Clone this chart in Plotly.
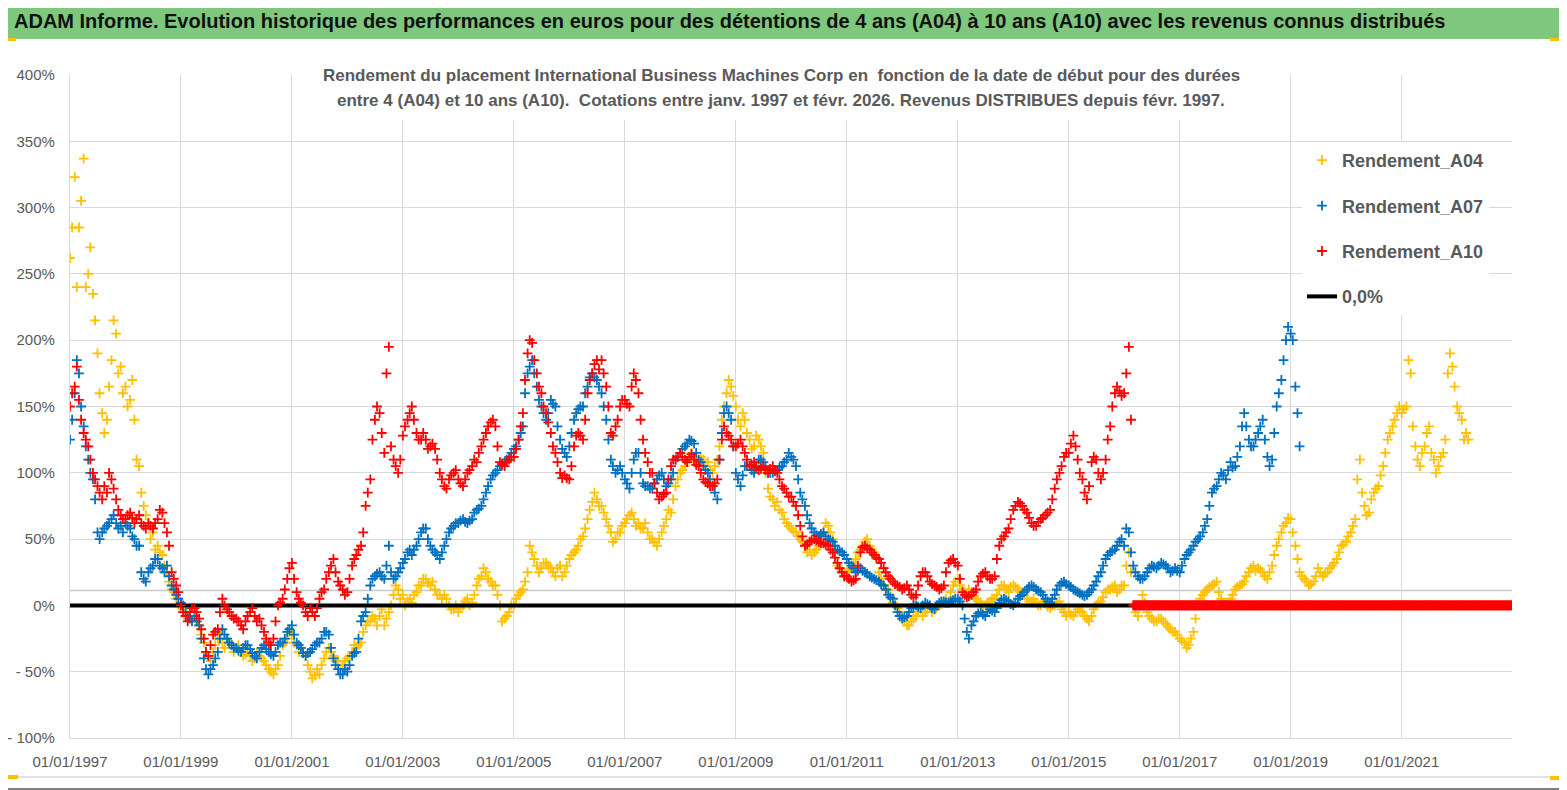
import pandas as pd
import plotly.graph_objects as go

## valeurs (rendement en %)
## deux lectures par mois : le 1er (a..) et le 15 (m..) pour rendre l'epaisseur des nuages
debut = '1997-01-01'

a04 = [
    262, 323, 285, 337, 250, 235, 190, 145, 140, 185, 205, 180,   # 1997
    165, 155, 140, 105, 75, 62, 55, 45, 38, 25, 12, 5,             # 1998
    0, -5, -8, -5, -15, -28, -38, -35, -25, -28, -25, -30,         # 1999
    -33, -35, -37, -38, -40, -38, -42, -48, -52, -45, -30, -25,    # 2000
    -22, -30, -32, -38, -50, -53, -52, -40, -32, -38, -42, -45,    # 2001
    -40, -35, -32, -28, -15, -12, -10, -8, -15, -5, 8, 12,         # 2002
    8, 3, 2, 10, 15, 20, 15, 12, 8, 8, 0, -3,                      # 2003
    -5, 0, 5, 2, 15, 22, 25, 18, 15, 0, -10, -5,                   # 2004
    0, 8, 12, 25, 40, 30, 28, 32, 28, 22, 30, 25,                  # 2005
    35, 40, 45, 52, 65, 78, 80, 75, 65, 55, 50, 55,                # 2006
    62, 68, 65, 62, 58, 55, 50, 45, 55, 65, 70, 90,                # 2007
    100, 105, 110, 112, 105, 110, 108, 100, 110, 140, 160, 165,    # 2008
    150, 135, 140, 125, 120, 125, 115, 88, 80, 78, 70, 62,         # 2009
    58, 55, 50, 45, 42, 40, 45, 55, 60, 50, 30, 25,                # 2010
    25, 28, 35, 42, 48, 45, 40, 25, 15, 12, 2, -2,                 # 2011
    -8, -15, -12, -8, -3, -5, -2, -3, 0, 2, 3, 15,                 # 2012
    20, 12, 8, 10, 5, 2, 0, 3, 5, 12, 15, 10,                      # 2013
    15, 12, 10, 5, 3, 2, 0, 2, -2, 0, 3, -5,                       # 2014
    -5, -8, -3, -5, -10, -8, 0, 3, 10, 12, 15, 12,                 # 2015
    15, 40, 0, -8, 8, -5, -10, -12, -10, -14, -18, -20,            # 2016
    -25, -28, -30, -20, 0, 8, 12, 15, 18, 5, 0, 5,                 # 2017
    12, 15, 18, 25, 30, 28, 25, 20, 30, 45, 55, 62,                # 2018
    65, 45, 25, 20, 15, 18, 28, 22, 25, 30, 35, 45,                # 2019
    48, 55, 65, 110, 75, 70, 85, 90, 105, 125, 135, 145,           # 2020
    145, 150, 175, 120, 105, 120, 135, 110, 105, 115, 175, 180,    # 2021
    150, 140, 130,                                                 # 2022
]
m04 = [
    285, 240, 305, 240, 270, 215, 160, 130, 165, 215, 175, 160,    # 1997
    150, 170, 110, 85, 68, 50, 42, 40, 30, 18, 10, 0,              # 1998
    -3, -10, -2, -12, -22, -35, -42, -30, -22, -32, -28, -35,      # 1999
    -30, -38, -35, -42, -36, -40, -45, -50, -48, -38, -28, -20,    # 2000
    -28, -35, -35, -45, -55, -48, -45, -35, -35, -42, -48, -42,    # 2001
    -38, -30, -30, -20, -12, -8, -15, -3, -10, 0, 15, 5,           # 2002
    0, 5, 8, 15, 20, 17, 18, 8, 5, 5, -3, 0,                       # 2003
    -2, 3, 0, 8, 20, 28, 20, 15, 8, -12, -8, 0,                    # 2004
    5, 10, 18, 45, 35, 25, 32, 30, 25, 28, 22, 30,                 # 2005
    38, 42, 50, 58, 72, 85, 75, 70, 60, 48, 55, 60,                # 2006
    65, 70, 60, 58, 62, 50, 48, 50, 60, 72, 80, 95,                # 2007
    102, 108, 115, 108, 112, 105, 102, 105, 120, 150, 170, 158,    # 2008
    140, 145, 130, 118, 128, 120, 100, 82, 75, 72, 65, 60,         # 2009
    56, 52, 48, 40, 38, 42, 50, 62, 55, 40, 28, 22,                # 2010
    26, 32, 40, 45, 50, 42, 35, 20, 12, 8, 0, -5,                  # 2011
    -12, -15, -10, -5, -8, -3, -5, -1, 1, 5, 10, 18,               # 2012
    15, 10, 12, 7, 3, 0, 2, 5, 8, 15, 12, 14,                      # 2013
    14, 10, 8, 3, 5, 0, 3, -1, 0, 2, -3, -8,                       # 2014
    -7, -5, -4, -8, -12, -3, 2, 6, 12, 14, 10, 15,                 # 2015
    30, 25, -5, 0, 2, -8, -12, -10, -12, -16, -20, -22,            # 2016
    -27, -32, -25, -10, 5, 10, 14, 16, 10, 2, 2, 8,                # 2017
    14, 16, 22, 28, 26, 27, 22, 25, 38, 50, 60, 66,                # 2018
    55, 35, 22, 18, 16, 22, 25, 24, 28, 32, 40, 46,                # 2019
    52, 60, 95, 85, 68, 80, 88, 98, 115, 130, 140, 150,            # 2020
    148, 185, 135, 110, 115, 130, 115, 100, 112, 125, 190, 165,    # 2021
    145, 125, 125,                                                 # 2022
]

a07 = [
    125, 160, 175, 135, 110, 95, 55, 55, 60, 65, 62, 60,           # 1997
    62, 58, 50, 45, 20, 25, 30, 35, 28, 30, 15, 8,                 # 1998
    2, -5, -10, -8, -15, -40, -52, -45, -35, -18, -25, -30,        # 1999
    -32, -35, -30, -33, -38, -35, -30, -35, -38, -30, -28, -20,    # 2000
    -15, -28, -32, -38, -35, -30, -28, -20, -22, -40, -48, -52,    # 2001
    -50, -38, -35, -12, -5, 15, 22, 25, 20, 45, 20, 25,            # 2002
    32, 40, 38, 45, 55, 58, 45, 40, 35, 45, 55, 60,                # 2003
    62, 65, 62, 65, 72, 75, 85, 95, 100, 105, 108, 112,            # 2004
    118, 125, 135, 175, 185, 165, 150, 140, 155, 150, 125, 115,    # 2005
    120, 140, 148, 150, 165, 175, 170, 160, 140, 110, 100, 105,    # 2006
    95, 88, 110, 115, 92, 90, 88, 95, 100, 90, 95, 110,            # 2007
    115, 120, 125, 122, 110, 105, 100, 90, 80, 130, 150, 140,      # 2008
    100, 90, 105, 105, 100, 110, 108, 100, 100, 102, 105, 110,     # 2009
    112, 105, 85, 75, 62, 55, 52, 55, 50, 48, 42, 40,              # 2010
    35, 30, 25, 28, 25, 22, 20, 18, 15, 8, 5, -5,                  # 2011
    -10, -8, -2, 0, -2, 2, 0, -3, 2, 3, 2, 4,                      # 2012
    5, 0, -20, -15, -8, -5, -8, -3, -5, 2, 5, 3,                   # 2013
    0, 5, 8, 12, 15, 12, 10, 5, 2, 8, 15, 18,                      # 2014
    15, 12, 10, 8, 8, 12, 18, 25, 35, 40, 42, 48,                  # 2015
    45, 55, 30, 22, 20, 25, 30, 28, 32, 30, 25, 28,                # 2016
    25, 35, 40, 45, 50, 55, 65, 85, 90, 100, 95, 108,              # 2017
    105, 120, 145, 125, 120, 130, 140, 112, 110, 150, 170, 200,    # 2018
    205, 165, 120,                                                 # 2019
]
m07 = [
    140, 185, 150, 120, 100, 80, 50, 58, 62, 68, 58, 55,           # 1997
    60, 52, 45, 25, 18, 28, 35, 30, 25, 22, 12, 5,                 # 1998
    0, -8, -12, -12, -25, -48, -48, -40, -25, -22, -28, -32,       # 1999
    -34, -32, -30, -36, -40, -32, -33, -37, -35, -28, -25, -18,    # 2000
    -22, -30, -36, -36, -33, -28, -25, -20, -32, -45, -52, -48,    # 2001
    -45, -36, -25, -8, 5, 20, 24, 22, 30, 25, 22, 28,              # 2002
    35, 42, 42, 50, 58, 50, 42, 38, 40, 50, 58, 62,                # 2003
    64, 63, 64, 70, 73, 80, 90, 98, 102, 107, 110, 115,            # 2004
    120, 130, 160, 180, 175, 155, 145, 145, 152, 135, 118, 112,    # 2005
    130, 145, 150, 160, 172, 172, 165, 150, 125, 105, 102, 100,    # 2006
    92, 100, 115, 100, 90, 88, 92, 98, 95, 92, 100, 112,           # 2007
    118, 122, 124, 115, 108, 102, 95, 85, 110, 145, 145, 120,      # 2008
    95, 98, 105, 102, 105, 110, 104, 100, 101, 104, 108, 115,      # 2009
    110, 95, 80, 68, 58, 53, 54, 52, 49, 45, 41, 38,               # 2010
    32, 28, 26, 26, 24, 21, 19, 16, 12, 6, 0, -8,                  # 2011
    -9, -5, -1, -1, 0, 1, -2, 0, 3, 2, 3, 5,                       # 2012
    3, -10, -25, -12, -6, -7, -5, -4, -2, 4, 4, 1,                 # 2013
    2, 7, 10, 14, 14, 11, 8, 3, 5, 12, 17, 16,                     # 2014
    14, 11, 9, 7, 10, 15, 22, 30, 38, 41, 45, 50,                  # 2015
    58, 40, 25, 20, 22, 28, 29, 30, 31, 28, 26, 26,                # 2016
    30, 38, 42, 48, 52, 60, 75, 88, 95, 98, 102, 104,              # 2017
    112, 135, 135, 120, 125, 135, 125, 105, 130, 160, 185, 210,    # 2018
    200, 145,                                                      # 2019
]

a10 = [
    150, 165, 155, 130, 120, 100, 90, 80, 85, 95, 80, 68,          # 1997
    65, 70, 62, 68, 60, 62, 58, 65, 70, 55, 25, 15,                # 1998
    0, -8, -5, -2, -10, -25, -38, -22, -18, 5, -3, -8,             # 1999
    -10, -15, -12, -5, -8, -10, -20, -28, -25, 0, 5, 20,           # 2000
    32, 10, 2, -5, -2, -8, 5, 12, 25, 35, 18, 12,                  # 2001
    10, 30, 38, 45, 75, 95, 140, 145, 115, 195, 110, 100,          # 2002
    128, 140, 150, 130, 125, 125, 120, 118, 100, 90, 95, 100,      # 2003
    95, 90, 100, 105, 108, 120, 130, 138, 135, 108, 105, 110,      # 2004
    112, 125, 145, 190, 198, 175, 160, 145, 130, 115, 100, 98,     # 2005
    95, 120, 130, 125, 160, 175, 185, 185, 165, 130, 135, 150,     # 2006
    155, 150, 175, 160, 125, 108, 100, 85, 82, 85, 105, 110,       # 2007
    115, 110, 112, 110, 105, 95, 92, 90, 95, 125, 130, 125,        # 2008
    120, 125, 115, 105, 108, 102, 105, 100, 105, 100, 90, 85,      # 2009
    82, 75, 60, 45, 48, 50, 48, 47, 45, 40, 32, 25,                # 2010
    22, 18, 20, 40, 45, 42, 38, 35, 28, 22, 18, 15,                # 2011
    12, 15, 8, 8, 22, 25, 18, 15, 12, 15, 32, 35,                  # 2012
    30, 10, 6, 8, 12, 22, 25, 20, 22, 45, 52, 58,                  # 2013
    72, 78, 75, 70, 62, 60, 65, 68, 72, 88, 100, 112,              # 2014
    115, 128, 110, 95, 80, 108, 110, 95, 110, 135, 160, 162,       # 2015
    160, 195,                                                      # 2016 (jan-fev)
]
m10 = [
    160, 180, 140, 125, 110, 95, 85, 90, 100, 88, 72, 65,          # 1997
    68, 66, 65, 62, 58, 60, 62, 72, 62, 45, 20, 10,                # 1998
    -5, -12, -2, -5, -18, -35, -30, -20, -5, 0, -5, -10,           # 1999
    -12, -18, -8, -2, -12, -15, -25, -30, -12, 2, 12, 28,          # 2000
    20, 5, 0, -8, -5, -2, 10, 20, 30, 25, 15, 8,                   # 2001
    20, 35, 42, 55, 85, 125, 150, 130, 175, 120, 105, 110,         # 2002
    135, 145, 140, 125, 130, 118, 122, 110, 95, 88, 98, 102,       # 2003
    92, 95, 102, 110, 115, 125, 135, 140, 120, 106, 108, 112,      # 2004
    118, 135, 170, 200, 185, 165, 150, 138, 120, 108, 96, 96,      # 2005
    105, 128, 128, 140, 170, 182, 178, 175, 150, 128, 140, 155,    # 2006
    152, 165, 170, 140, 115, 100, 92, 80, 84, 95, 110, 112,        # 2007
    112, 108, 114, 106, 100, 93, 90, 92, 110, 135, 128, 120,       # 2008
    122, 120, 110, 106, 104, 103, 102, 103, 102, 95, 88, 82,       # 2009
    78, 68, 52, 46, 49, 49, 47, 46, 42, 36, 28, 22,                # 2010
    20, 19, 30, 44, 43, 40, 36, 32, 25, 20, 16, 14,                # 2011
    13, 12, 6, 15, 25, 22, 16, 14, 13, 25, 34, 32,                 # 2012
    20, 8, 7, 10, 18, 24, 22, 20, 35, 50, 55, 65,                  # 2013
    75, 77, 72, 66, 60, 63, 66, 70, 80, 95, 105, 115,              # 2014
    122, 120, 100, 85, 90, 112, 100, 100, 125, 150, 165, 158,      # 2015
    175, 140,                                                      # 2016 (jan-fev)
]
# a partir de mars 2016 la serie A10 vaut 0 (pas encore de resultat a 10 ans)
a10_zero_dates = pd.date_range('2016-03-01', '2022-12-28', freq='5D')
a10_zero = [0] * len(a10_zero_dates)

ligne_zero_dates = ['1997-01-01', '2022-12-28']
ligne_zero_vals = [0, 0]

x_ticks = ['%d-01-01' % a for a in range(1997, 2022, 2)]
x_labels = ['01/01/%d' % a for a in range(1997, 2022, 2)]
y_ticks = [-100, -50, 0, 50, 100, 150, 200, 250, 300, 350, 400]
y_labels = ['- 100%', '- 50%', '0%', '50%', '100%', '150%', '200%', '250%', '300%', '350%', '400%']

def dates(n, jour):
    return list(pd.date_range(debut, periods=n, freq='MS') + pd.Timedelta(days=jour))

def serie(v1, v15):
    return dates(len(v1), 0) + dates(len(v15), 14), list(v1) + list(v15)

x04, y04 = serie(a04, m04)
x07, y07 = serie(a07, m07)
x10, y10 = serie(a10, m10)
x10 += list(a10_zero_dates)
y10 += a10_zero

## la page html ajoute 8 px de marge (body) -> on travaille en pixels de la page
OFF = 8
W, H = 1567 - OFF, 790 - OFF
L, R, T, B = 70 - OFF, 1512 - OFF, 75 - OFF, 738 - OFF
def px_x(p):
    return (p - OFF - L) / (R - L)
def px_y(p):
    return (B - (p - OFF)) / (B - T)

police = 'Liberation Sans, Arial, sans-serif'
gris = '#595959'

def nuage(nom, xs, ys, couleur, rang):
    return go.Scatter(x=xs, y=ys, mode='markers', name=nom,
                      legendgroup=nom, legendrank=rang,
                      marker=dict(symbol='cross-thin', size=7, color=couleur,
                                  line=dict(width=1.8, color=couleur)))

fig = go.Figure()
fig.add_trace(nuage('Rendement_A04', x04, y04, '#FFC000', 1))
fig.add_trace(nuage('Rendement_A07', x07, y07, '#0070C0', 2))
fig.add_trace(go.Scatter(x=ligne_zero_dates, y=ligne_zero_vals, mode='lines', name='0,0%',
                         legendgroup='zero', legendrank=4,
                         line=dict(color='black', width=4)))
fig.add_trace(nuage('Rendement_A10', x10, y10, '#FF0000', 3))

shapes = [
    # ligne grise vers 11%
    dict(type='line', xref='paper', yref='y', x0=0, x1=1, y0=11.3, y1=11.3,
         line=dict(color='#c9c9c9', width=1.5), layer='below'),
    # fond blanc sous le sous-titre
    dict(type='rect', xref='paper', yref='paper', x0=px_x(300), x1=px_x(1262),
         y0=px_y(120), y1=px_y(58), fillcolor='white', line_width=0, layer='above'),
    # bandeau vert
    dict(type='rect', xref='paper', yref='paper', x0=px_x(0), x1=px_x(1565),
         y0=px_y(39), y1=px_y(3), fillcolor='#7DC87D', line_width=0),
    # cadre
    dict(type='line', xref='paper', yref='paper', x0=px_x(1560), x1=px_x(1560),
         y0=px_y(40), y1=px_y(777), line=dict(color='#d9d9d9', width=1.5)),
    dict(type='line', xref='paper', yref='paper', x0=px_x(0), x1=px_x(1560),
         y0=px_y(777), y1=px_y(777), line=dict(color='#d9d9d9', width=1.5)),
    dict(type='line', xref='paper', yref='paper', x0=px_x(1566), x1=px_x(1566),
         y0=px_y(0), y1=px_y(790), line=dict(color='#7f7f7f', width=2)),
    dict(type='line', xref='paper', yref='paper', x0=px_x(0), x1=px_x(1567),
         y0=px_y(789), y1=px_y(789), line=dict(color='#7f7f7f', width=2)),
]
# coins jaunes
for x0, x1, y0, y1 in [(8, 16, 38, 41), (1550, 1565, 38, 41), (1562, 1565, 38, 52),
                       (1560, 1564, 737, 780), (1550, 1564, 776, 780), (8, 18, 775, 779)]:
    shapes.append(dict(type='rect', xref='paper', yref='paper', x0=px_x(x0), x1=px_x(x1),
                       y0=px_y(y1), y1=px_y(y0), fillcolor='#FFC000', line_width=0))

annotations = [
    dict(text='ADAM Informe. Evolution historique des performances en euros pour des détentions de 4 ans (A04) à 10 ans (A10) avec les revenus connus distribués',
         xref='paper', yref='paper', x=px_x(12), y=px_y(21), xanchor='left', yanchor='middle',
         showarrow=False, font=dict(family=police, size=20, color='#111111', weight='bold')),
    dict(text='Rendement du placement International Business Machines Corp en  fonction de la date de début pour des durées',
         xref='paper', yref='paper', x=px_x(781), y=px_y(75), xanchor='center', yanchor='middle',
         showarrow=False, font=dict(family=police, size=17, color=gris, weight='bold')),
    dict(text='entre 4 (A04) et 10 ans (A10).  Cotations entre janv. 1997 et févr. 2026. Revenus DISTRIBUES depuis févr. 1997.',
         xref='paper', yref='paper', x=px_x(781), y=px_y(101), xanchor='center', yanchor='middle',
         showarrow=False, font=dict(family=police, size=17, color=gris, weight='bold')),
]

fig.update_layout(
    width=W, height=H,
    margin=dict(l=L, r=W - R, t=T, b=H - B),
    paper_bgcolor='white', plot_bgcolor='white',
    font=dict(family=police, color=gris),
    showlegend=True,
    legend=dict(x=px_x(1302), y=px_y(142), xanchor='left', yanchor='top',
                bgcolor='white', traceorder='grouped', tracegroupgap=19,
                font=dict(family=police, size=18, color=gris, weight='bold')),
    shapes=shapes, annotations=annotations,
    xaxis=dict(type='date', range=['1997-01-01', '2022-12-28'], automargin=False,
               tickvals=x_ticks, ticktext=x_labels, showgrid=True,
               gridcolor='#d9d9d9', gridwidth=1.3, showline=True, linecolor='#d9d9d9',
               linewidth=1.3, zeroline=False, ticks='', ticklabelstandoff=10,
               tickfont=dict(size=15, color=gris)),
    yaxis=dict(range=[-100, 400], tickvals=y_ticks, ticktext=y_labels, showgrid=True,
               automargin=False,
               gridcolor='#d9d9d9', gridwidth=1.3, showline=True, linecolor='#d9d9d9',
               linewidth=1.3, zeroline=False, ticks='', ticklabelstandoff=11,
               tickfont=dict(size=15, color=gris)),
)

fig.write_html('out.html')
